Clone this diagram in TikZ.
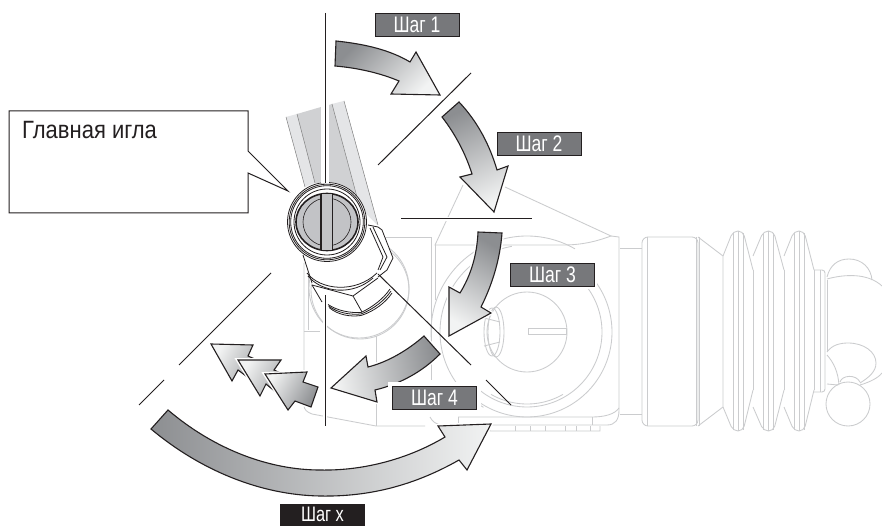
\documentclass[tikz,border=0pt]{standalone}
\usepackage{fontspec}
\newfontfamily\narrowlab[FakeStretch=0.78]{Liberation Sans}
\newfontfamily\narrowmain[FakeStretch=0.88]{Liberation Sans}
\definecolor{ghost}{HTML}{CBCCCE}
\definecolor{tagbg}{HTML}{77787B}
\definecolor{tagdark}{HTML}{231F20}
\definecolor{gdark}{HTML}{8C8E91}
\definecolor{glight}{HTML}{F2F3F3}
\definecolor{bandA}{HTML}{E4E5E7}
\definecolor{bandB}{HTML}{D0D1D3}
\definecolor{disc}{HTML}{C2C3C6}
\tikzset{
  ghostline/.style={draw=ghost,line width=0.85pt},
  axisline/.style={draw=tagdark,line width=1pt},
  metal/.style={draw=tagdark,line width=0.8pt},
  tag/.style={draw=tagdark,line width=0.9pt,fill=tagbg,text=white,minimum width=84pt,minimum height=23pt,inner sep=0pt,font=\narrowlab\fontsize{22.5}{22.5}\selectfont},
  tagblack/.style={tag,fill=tagdark},
}
\newcommand{\bigarrow}[2]{%
  \path[draw=white,line width=4pt,line join=miter] #2;
  \shade[draw=tagdark,line width=1.1pt,line join=miter,top color=gdark,bottom color=glight,shading angle=#1] #2;
}
\newcommand{\ring}[3]{\draw[ghostline] plot[smooth,domain=#2:#3,samples=40] ({527+#1*cos(\x)},{332-#1*sin(\x)});}
\begin{document}
\begin{tikzpicture}[x=1pt,y=-1pt]
\useasboundingbox (0,0) rectangle (882,526);
\fill[white] (0,0) rectangle (882,526);

% --- ghost housing ---
\draw[ghostline] (463,185) -- (435,245) -- (563,245) .. controls (585,245) and (600,240) .. (611,236) -- (505,187);
\draw[ghostline] (385,237) -- (431,237) -- (431,380);
\draw[ghostline] (435,245) -- (435,300);
\draw[ghostline] (611,236) -- (619,237) -- (619,410) .. controls (619,420) and (615,425) .. (607,425) -- (443,425) .. controls (436,425) and (432,421) .. (430,417);
\draw[ghostline] (458,417) -- (592,417) .. controls (605,417) and (615,414) .. (619,408);
\draw[ghostline] (458,417) -- (458,423);
\draw[ghostline] (592,417) -- (592,425);
\draw[ghostline] (488,426) -- (490,431) -- (600,431) -- (600,426);
\foreach \k in {515,530,545,565,576,590} \draw[ghostline] (\k,426) -- (\k,431);
% left box
\draw[ghostline] (304,263) -- (304,405) .. controls (304,410) and (307,412) .. (312,414) -- (376,426) -- (425,426);
\draw[ghostline] (308,263) -- (308,330);
\draw[ghostline] (304,331) -- (320,331);
\draw[ghostline] (376,336) -- (376,426);
\draw[ghostline] (359,288) circle[radius=50];
\draw[ghostline] (360,290) circle[radius=49];
% big dial
\draw[ghostline] (527,332) circle[radius=40];
\draw[ghostline] (528,328) rectangle (566,334);
\draw[ghostline] (492,332) ellipse[x radius=8,y radius=24];
\draw[ghostline] (496,332) ellipse[x radius=8,y radius=25];
\draw[ghostline] (484,318) -- (500,322);
\draw[ghostline] (484,346) -- (500,342);
\ring{75}{-130}{40}
\ring{85}{-130}{35}
\ring{96}{60}{185}
\ring{87}{100}{240}
\ring{72}{-120}{-60}
% neck and drum
\draw[ghostline] (620,248) -- (642,248);
\draw[ghostline] (620,414) -- (642,414);
\draw[ghostline,rounded corners=6pt] (642,237) rectangle (698,426);
\draw[ghostline] (647,237) -- (647,426);
\draw[ghostline] (696,237) -- (696,426);
\draw[ghostline] (699,237) -- (699,426);
\draw[ghostline] (698,237) -- (723,256) -- (723,407) -- (698,426);
% bellows
\foreach \a/\b in {723/753,753/784,784/814}{
  \pgfmathsetmacro{\m}{(\a+\b)/2}
  \draw[ghostline,rounded corners=5pt] (\a,256) -- (\m-5,231) -- (\m+5,231) -- (\b,270);
  \draw[ghostline,rounded corners=5pt] (\a,407) -- (\m-5,431) -- (\m+5,431) -- (\b,390);
  \draw[ghostline] (\m-5,233) -- (\m-5,430);
  \draw[ghostline] (\m,231) -- (\m,431);
  \draw[ghostline] (\m+5,233) -- (\m+5,430);
  \draw[ghostline] (\b,270) -- (\b,390);
}
% collar
\draw[ghostline,rounded corners=3pt] (814,270) -- (825,270) -- (825,392) -- (814,392);
\draw[ghostline] (820,270) -- (820,392);
\draw[ghostline] (827,280) -- (827,352);
% round details
\draw[ghostline] (827,277) .. controls (830,265) and (838,259) .. (849,259) .. controls (862,259) and (871,268) .. (872,280);
\draw[ghostline] (827,279) .. controls (845,274) and (868,273) .. (882,286);
\draw[ghostline] (827,352) .. controls (832,345) and (840,343) .. (848,343) .. controls (864,343) and (876,352) .. (876,363) .. controls (876,372) and (868,378) .. (860,383);
\draw[ghostline] (827,355) .. controls (834,363) and (838,372) .. (839,385);
\draw[ghostline] (860,385) .. controls (870,382) and (878,378) .. (882,373);
\draw[ghostline] (840,382) .. controls (842,375) and (856,374) .. (860,382);
\draw[ghostline] (827,384) -- (838,385);
\draw[ghostline] (848,404) circle[radius=22];

% --- needle band ---
\fill[bandA] (286,117) -- (297,114) -- (315,183) -- (305,187) -- cycle;
\fill[bandB] (297,114) -- (321,107) -- (321,183) -- (315,183) -- cycle;
\fill[bandB] (329,105) -- (332,104) -- (357,197) -- (332,183) -- (329,183) -- cycle;
\fill[bandA] (332,104) -- (344,101) -- (378,225) -- (360,225) -- (355,190) -- cycle;
\draw[draw=gray,line width=0.5pt] (286,117) -- (305,187);
\draw[draw=gray,line width=0.5pt] (297,114) -- (315,183);
\draw[draw=gray,line width=0.5pt] (332,104) -- (357,197);
\draw[draw=gray,line width=0.5pt] (344,101) -- (378,225);

% --- nut ---
\fill[white] (303,254) -- (312,285) -- (322,302) -- (361,314) -- (390,290) -- (393,258) -- (382,230) -- (362,210) -- cycle;
\draw[metal] (368,225) -- (378,227) -- (382,230) -- (393,258) -- (387,270) -- (378,277);
\draw[metal] (373,227) -- (387,257) -- (380,270);
\draw[metal] (370,228) -- (383,257) -- (378,270);
\draw[metal] (312,285) -- (353,296) -- (378,278);
\draw[metal] (353,296) -- (362,312);
\draw[metal] (312,285) -- (322,302);
\draw[metal] (328,304.5) .. controls (338,311) and (350,313) .. (361,312.5) .. controls (373,307) and (384,298) .. (390,289);
\draw[metal] (328.5,306) .. controls (338,313) and (350,315) .. (361,314) .. controls (374,309) and (385,300) .. (391,291);
\draw[metal] (329,307.5) .. controls (338,315) and (350,317) .. (361,315.5) .. controls (375,311) and (386,302) .. (392,293);
\draw[metal] (303,255) -- (312,283);
\draw[metal] (307,273) .. controls (320,290) and (355,294) .. (377,273);
\draw[metal] (308,276) .. controls (322,293) and (353,296) .. (373,278);

% --- head ---
\fill[white] (327,222) circle[radius=40];
\draw[metal] (327,222) circle[radius=39.5];
\draw[metal] (327,222) circle[radius=37.8];
\draw[metal] (327,222) circle[radius=36.3];
\draw[metal] (327,222) circle[radius=33];
\draw[metal,line width=1.6pt,fill=disc] (327,222) ellipse[x radius=31,y radius=28.5];
\draw[draw=tagdark,line width=0.6pt] (327,222) ellipse[x radius=24,y radius=24];
\fill[disc] (321,194) rectangle (332,250);
\draw[metal,line width=1.2pt] (321,194) -- (321,250);
\draw[metal,line width=0.9pt] (332,194) -- (332,250);

% --- axes ---
\draw[draw=white,line width=8pt] (325,13) -- (325,183);
\draw[axisline] (325,13) -- (325,183);
\draw[draw=white,line width=4pt] (325,295) -- (325,426);
\draw[axisline] (325,295) -- (325,426);
\draw[draw=white,line width=4pt] (378,165) -- (471,73);
\draw[axisline] (378,165) -- (471,73);
\draw[draw=white,line width=4pt] (401,219) -- (532,219);
\draw[axisline] (401,219) -- (532,219);
\draw[axisline] (378,274) -- (471,365);
\draw[axisline] (486,380) -- (511,405);
\draw[axisline] (271,273) -- (179,365);
\draw[axisline] (164,380) -- (139,405);

% --- arrows ---
\bigarrow{45}{(336,41) .. controls (365,44) and (390,50) .. (410,62) -- (416,52) -- (440,95) -- (391,94) -- (399,81) .. controls (380,73) and (358,68) .. (335,66) -- cycle}
\bigarrow{25}{(459,102) .. controls (478,122) and (490,146) .. (497,170) -- (508,166) -- (494,212) -- (460,177) -- (472,174) .. controls (466,155) and (456,135) .. (442,117) -- cycle}
\bigarrow{-30}{(478,232) -- (502,233) .. controls (500,260) and (492,285) .. (481,307) -- (491,313) -- (449,336) -- (449,287) -- (460,293) .. controls (471,275) and (477,255) .. (478,232) -- cycle}
\bigarrow{-80}{(424,336) -- (440,354) .. controls (422,372) and (400,384) .. (375,390) -- (377,402) -- (331,388) -- (366,356) -- (368,367) .. controls (388,362) and (408,350) .. (424,336) -- cycle}
\bigarrow{90}{(168,410) .. controls (215,450) and (270,470) .. (320,470) .. controls (365,471) and (410,458) .. (445,437) -- (438,426) -- (491,424) -- (467,470) -- (459,460) .. controls (415,485) and (370,497) .. (320,496) .. controls (260,495) and (200,470) .. (151,429) -- cycle}
\bigarrow{-120}{(211,344) -- (253,345) -- (248,356) -- (275,368) -- (262,388) -- (238,370) -- (232,381) -- cycle}
\bigarrow{-120}{(238,360) -- (281,360) -- (274,370) -- (300,382) -- (288,402) -- (266,384) -- (260,396) -- cycle}
\bigarrow{-120}{(265,374) -- (307,372) -- (303,382) -- (318,387) -- (311,407) -- (295,401) -- (288,410) -- cycle}

% --- tags ---
\node[tag] (s1) at (417,24.5) {Шаг 1};
\node[tag] (s2) at (539,144) {Шаг 2};
\path[fill=white] (508,261) rectangle (597,289);
\node[tag] (s3) at (552.5,275) {Шаг 3};
\path[fill=white] (388,382) rectangle (481,412);
\node[tag] (s4) at (434.5,398) {Шаг 4};
\node[tagblack,minimum height=21pt,font=\narrowlab\fontsize{21}{21}\selectfont] (sx) at (322.5,514.5) {Шаг x};

% --- callout ---
\draw[draw=tagdark,line width=1pt,fill=white,line join=miter] (9,111) -- (248,111) -- (248,151) -- (288,191) -- (248,173) -- (248,213) -- (9,213) -- cycle;
\node[anchor=base west,inner sep=0pt,text=tagdark,font=\narrowmain\fontsize{25}{25}\selectfont] (main) at (22,139) {Главная игла};
\end{tikzpicture}
\end{document}
